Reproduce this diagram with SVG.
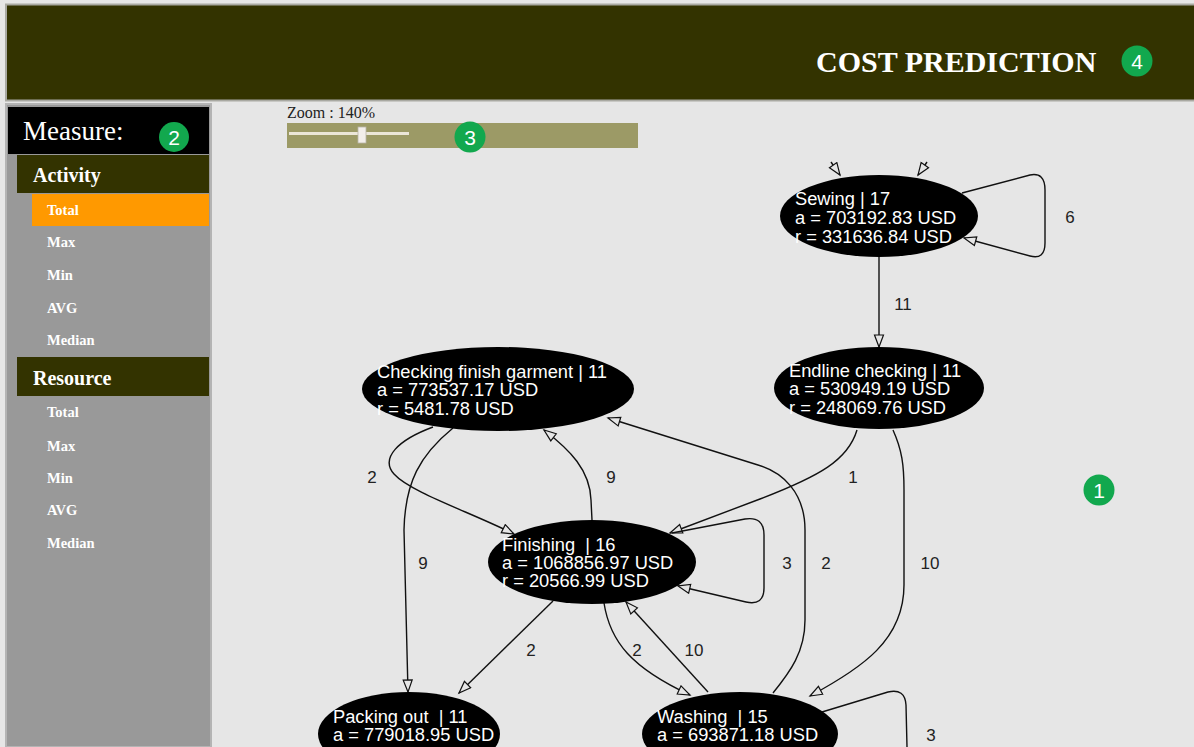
<svg xmlns="http://www.w3.org/2000/svg" width="1194" height="747" viewBox="0 0 1194 747">
  <style>
    .hdr { font-family: "Liberation Serif", "Times New Roman", serif; fill: #ffffff; }
    .menu { font-family: "Liberation Serif", "Times New Roman", serif; font-weight: bold; font-size: 14.5px; fill: #ffffff; }
    .sect { font-family: "Liberation Serif", "Times New Roman", serif; font-weight: bold; font-size: 20px; fill: #ffffff; }
    .badge circle { fill: #12a84e; }
    .badge text { font-family: "Liberation Sans", Arial, sans-serif; font-size: 21px; fill: #ffffff; text-anchor: middle; }
    .node ellipse { fill: #000000; }
    .node text { font-family: "Liberation Sans", Arial, sans-serif; font-size: 18.3px; fill: #ffffff; }
    .edge { fill: none; stroke: #111111; stroke-width: 1.4; }
    .elabel { font-family: "Liberation Sans", Arial, sans-serif; font-size: 17px; fill: #222222; text-anchor: middle; }
  </style>
  <defs>
    <marker id="arrow" markerUnits="userSpaceOnUse" markerWidth="16" markerHeight="12" refX="13" refY="5.5" orient="auto">
      <path d="M1,1 L13,5.5 L1,10 Z" fill="#e6e6e6" stroke="#111111" stroke-width="1.2"/>
    </marker>
  </defs>

  <!-- page background -->
  <rect x="0" y="0" width="1194" height="747" fill="#e6e6e6"/>

  <!-- header bar -->
  <g id="header">
    <rect x="6" y="4.5" width="1190" height="96" fill="#333300" stroke="#a9a9a2" stroke-width="2"/>
    <text class="hdr" x="816" y="72" font-size="30" font-weight="bold">COST PREDICTION</text>
  </g>

  <!-- left menu -->
  <g id="sidebar">
    <rect x="6" y="104" width="205" height="643" fill="#999999" stroke="#b4b4b4" stroke-width="2"/>
    <rect x="8" y="107" width="201" height="47" fill="#000000"/>
    <text class="hdr" x="23" y="140" font-size="27">Measure:</text>
    <rect x="17" y="155" width="192" height="38" fill="#333300"/>
    <text class="sect" x="33" y="182">Activity</text>
    <rect x="32" y="194" width="177" height="32" fill="#ff9900"/>
    <text class="menu" x="47" y="215">Total</text>
    <text class="menu" x="47" y="247">Max</text>
    <text class="menu" x="47" y="280">Min</text>
    <text class="menu" x="47" y="313">AVG</text>
    <text class="menu" x="47" y="345">Median</text>
    <rect x="17" y="357" width="192" height="39" fill="#333300"/>
    <text class="sect" x="33" y="385">Resource</text>
    <text class="menu" x="47" y="417">Total</text>
    <text class="menu" x="47" y="451">Max</text>
    <text class="menu" x="47" y="483">Min</text>
    <text class="menu" x="47" y="515">AVG</text>
    <text class="menu" x="47" y="548">Median</text>
  </g>

  <!-- zoom control -->
  <g id="zoom">
    <text class="hdr" x="287" y="118" font-size="16" style="fill:#222222">Zoom : 140%</text>
    <rect x="287" y="123" width="351" height="25" fill="#9c9a66"/>
    <rect x="289" y="132" width="120" height="3" fill="#ebe6d8"/>
    <rect x="358" y="127" width="8" height="16" fill="#f2eeea" stroke="#b8b4a8" stroke-width="0.8"/>
  </g>

  <!-- connectors -->
  <g id="connectors">
    <!-- incoming into Sewing -->
    <path class="edge" d="M831,162 L840,175" marker-end="url(#arrow)"/>
    <path class="edge" d="M927,162 L918,175" marker-end="url(#arrow)"/>
    <!-- Sewing self loop -->
    <path class="edge" d="M962,193 L1030,175 Q1045,172 1045,190 L1045,243 Q1045,260 1030,256 L964,238" marker-end="url(#arrow)"/>
    <text class="elabel" x="1070" y="223">6</text>
    <!-- Sewing -> Endline checking -->
    <path class="edge" d="M879,257 L879,347" marker-end="url(#arrow)"/>
    <text class="elabel" x="903" y="310">11</text>
    <!-- Endline checking -> Finishing -->
    <path class="edge" d="M857,430 C848,460 820,476 760,499 L670,533" marker-end="url(#arrow)"/>
    <text class="elabel" x="853" y="483">1</text>
    <!-- Endline checking -> Washing -->
    <path class="edge" d="M893,430 C902,450 904,465 904,490 L904,585 C904,640 862,668 810,696" marker-end="url(#arrow)"/>
    <text class="elabel" x="930" y="569">10</text>
    <!-- Washing -> Checking finish garment -->
    <path class="edge" d="M773,693 C790,672 805,652 805,620 L805,530 C805,492 782,472 758,465 L608,418" marker-end="url(#arrow)"/>
    <text class="elabel" x="826" y="569">2</text>
    <!-- Finishing self loop -->
    <path class="edge" d="M672,533 L745,519 Q764,516 764,535 L764,588 Q764,606 746,602 L678,586" marker-end="url(#arrow)"/>
    <text class="elabel" x="787" y="569">3</text>
    <!-- Checking finish garment -> Finishing -->
    <path class="edge" d="M433,427 C398,440 380,458 394,474 C410,492 470,512 514,534" marker-end="url(#arrow)"/>
    <text class="elabel" x="372" y="483">2</text>
    <!-- Checking finish garment -> Packing out -->
    <path class="edge" d="M453,428 C420,455 405,482 404,530 L408,692" marker-end="url(#arrow)"/>
    <text class="elabel" x="423" y="569">9</text>
    <!-- Finishing -> Checking finish garment -->
    <path class="edge" d="M592,520 L591,500 C590,470 570,450 544,430" marker-end="url(#arrow)"/>
    <text class="elabel" x="611" y="483">9</text>
    <!-- Finishing -> Packing out -->
    <path class="edge" d="M553,601 L459,693" marker-end="url(#arrow)"/>
    <text class="elabel" x="531" y="656">2</text>
    <!-- Finishing -> Washing -->
    <path class="edge" d="M604,603 C610,642 632,668 690,695" marker-end="url(#arrow)"/>
    <text class="elabel" x="637" y="656">2</text>
    <!-- Washing -> Finishing -->
    <path class="edge" d="M708,692 L626,602" marker-end="url(#arrow)"/>
    <text class="elabel" x="694" y="656">10</text>
    <!-- Washing self loop -->
    <path class="edge" d="M822,712 L888,692 Q905,688 906,705 L907,747"/>
    <text class="elabel" x="931" y="741">3</text>
  </g>

  <!-- process nodes -->
  <g id="node-sewing" class="node">
    <ellipse cx="879" cy="216" rx="99" ry="41"/>
    <text x="795" y="205">Sewing | 17</text>
    <text x="795" y="224">a = 703192.83 USD</text>
    <text x="795" y="243">r = 331636.84 USD</text>
  </g>
  <g id="node-endline" class="node">
    <ellipse cx="879" cy="388" rx="105" ry="41"/>
    <text x="789" y="377">Endline checking | 11</text>
    <text x="789" y="395">a = 530949.19 USD</text>
    <text x="789" y="414">r = 248069.76 USD</text>
  </g>
  <g id="node-checking" class="node">
    <ellipse cx="498" cy="389" rx="136" ry="42"/>
    <text x="377" y="378">Checking finish garment | 11</text>
    <text x="377" y="396">a = 773537.17 USD</text>
    <text x="377" y="415">r = 5481.78 USD</text>
  </g>
  <g id="node-finishing" class="node">
    <ellipse cx="592" cy="562" rx="104" ry="42"/>
    <text x="502" y="551">Finishing&#160; | 16</text>
    <text x="502" y="569">a = 1068856.97 USD</text>
    <text x="502" y="587">r = 20566.99 USD</text>
  </g>
  <g id="node-packing" class="node">
    <ellipse cx="409" cy="734" rx="91" ry="42"/>
    <text x="333" y="723">Packing out&#160; | 11</text>
    <text x="333" y="741">a = 779018.95 USD</text>
  </g>
  <g id="node-washing" class="node">
    <ellipse cx="740" cy="734" rx="98" ry="42"/>
    <text x="657" y="723">Washing&#160; | 15</text>
    <text x="657" y="741">a = 693871.18 USD</text>
  </g>

  <!-- numbered callouts -->
  <g id="badge-1" class="badge"><circle cx="1099" cy="490" r="15.5"/><text x="1099" y="498">1</text></g>
  <g id="badge-2" class="badge"><circle cx="174" cy="137" r="15"/><text x="174" y="145">2</text></g>
  <g id="badge-3" class="badge"><circle cx="470" cy="137" r="15.5"/><text x="470" y="145">3</text></g>
  <g id="badge-4" class="badge"><circle cx="1137" cy="61" r="15.5"/><text x="1137" y="69">4</text></g>
</svg>
